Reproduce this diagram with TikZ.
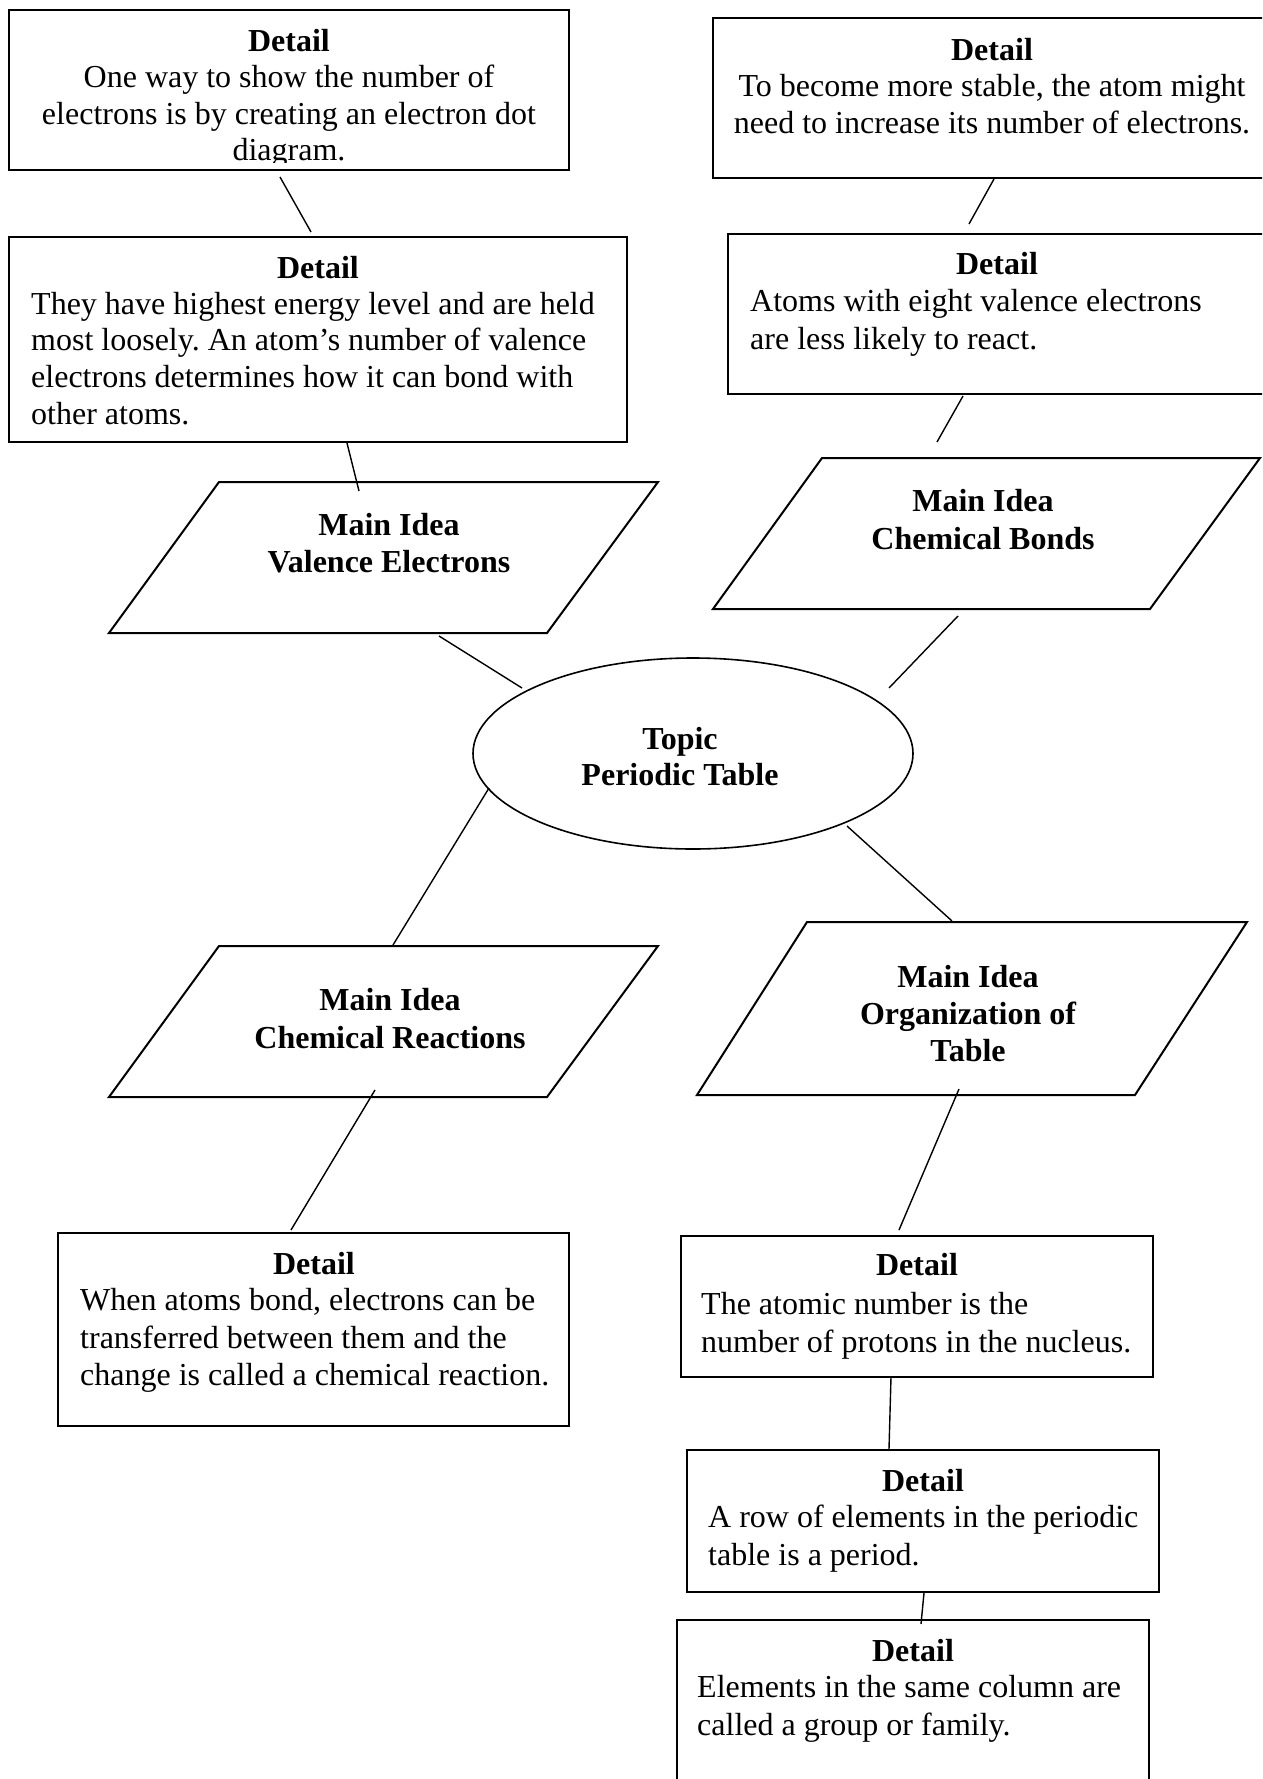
\documentclass[tikz,border=0pt]{standalone}
\usepackage{fontspec}
\setmainfont{Liberation Serif}
\usetikzlibrary{shapes.geometric}
\frenchspacing
\begin{document}
\begin{tikzpicture}[x=1pt,y=-1pt,
  box/.style={draw, line width=2pt, inner sep=0pt, outer sep=0pt},
  idea/.style={draw, line width=2pt, line join=miter},
  link/.style={line width=1.4pt},
  txt/.style={anchor=base, inner sep=0pt, font=\fontsize{32}{37}\selectfont},
  ttl/.style={txt, font=\fontsize{32}{37}\selectfont\bfseries},
  lft/.style={txt, anchor=base west}]
\useasboundingbox (0,0) rectangle (1262,1779);
\clip (0,0) rectangle (1262,1779);
\fill[white] (0,0) rectangle (1262,1779);

% ---- detail boxes ----
\node[box, minimum width=560, minimum height=160] (d1) at (289,90) {};
\node[box, minimum width=618, minimum height=205] (d2) at (318,339.5) {};
\node[box, minimum width=567, minimum height=160] (d3) at (996.5,98) {};
\node[box, minimum width=552, minimum height=160] (d4) at (1004,314) {};
\node[box, minimum width=511, minimum height=193] (d5) at (313.5,1329.5) {};
\node[box, minimum width=472, minimum height=141] (d6) at (917,1306.5) {};
\node[box, minimum width=472, minimum height=142] (d7) at (923,1521) {};
\node[box, minimum width=472, minimum height=180] (d8) at (913,1710) {};

% ---- main idea parallelograms ----
\draw[idea] (219,482) coordinate (m1a) -- (658,482) -- (547,633) -- (109,633) -- cycle;
\draw[idea] (822,458) coordinate (m2a) -- (1260,458) -- (1150,609) -- (713,609) -- cycle;
\draw[idea] (219,946) coordinate (m3a) -- (658,946) -- (547,1097) -- (109,1097) -- cycle;
\draw[idea] (807,922) coordinate (m4a) -- (1247,922) -- (1135,1095) -- (697,1095) -- cycle;

% ---- topic ----
\node[draw, ellipse, line width=1.6pt, minimum width=440, minimum height=191, inner sep=0pt] (topic) at (693,753.5) {};

% ---- connector end points ----
\coordinate (a1) at (280,177);  \coordinate (b1) at (311,232);
\coordinate (a2) at (347,443);  \coordinate (b2) at (359,491);
\coordinate (a3) at (439,636);  \coordinate (b3) at (522,688);
\coordinate (a4) at (994,179);  \coordinate (b4) at (969,224);
\coordinate (a5) at (963,396);  \coordinate (b5) at (937,442);
\coordinate (a6) at (958,616);  \coordinate (b6) at (889,688);
\coordinate (a7) at (489,788);  \coordinate (b7) at (393,945);
\coordinate (a8) at (375,1090); \coordinate (b8) at (291,1230);
\coordinate (a9) at (847,826);  \coordinate (b9) at (952,921);
\coordinate (a10) at (959,1089); \coordinate (b10) at (899,1230);
\coordinate (a11) at (891,1377); \coordinate (b11) at (889,1449);
\coordinate (a12) at (924,1593); \coordinate (b12) at (921,1624);

\foreach \i in {1,...,12} \draw[link] (a\i) -- (b\i);

% ---- texts ----
\node[ttl] (d1t) at (289,52) {Detail};
\node[txt] (d1l1) at (289,88) {One way to show the number of};
\node[txt] (d1l2) at (289,125) {electrons is by creating an electron dot};
\begin{scope}
  \clip (0,0) rectangle (1262,163);
  \node[txt] (d1l3) at (289,161) {diagram.};
\end{scope}

\node[ttl] (d2t) at (318,279) {Detail};
\node[lft] (d2l1) at (31,314) {They have highest energy level and are held};
\node[lft] (d2l2) at (31,350.5) {most loosely. An atom’s number of valence};
\node[lft] (d2l3) at (31,387) {electrons determines how it can bond with};
\node[lft] (d2l4) at (31,424) {other atoms.};

\node[ttl] (d3t) at (992,61) {Detail};
\node[txt] (d3l1) at (992,97) {To become more stable, the atom might};
\node[txt] (d3l2) at (992,134) {need to increase its number of electrons.};

\node[ttl] (d4t) at (997,275) {Detail};
\node[lft] (d4l1) at (750,311) {Atoms with eight valence electrons};
\node[lft] (d4l2) at (750,349) {are less likely to react.};

\node[ttl] (m1t) at (389,535) {Main Idea};
\node[ttl] (m1l) at (389,572) {Valence Electrons};

\node[ttl] (m2t) at (983,511) {Main Idea};
\node[ttl] (m2l) at (983,549) {Chemical Bonds};

\node[ttl] (tt) at (680,749) {Topic};
\node[ttl] (tl) at (680,785) {Periodic Table};

\node[ttl] (m3t) at (390,1010) {Main Idea};
\node[ttl] (m3l) at (390,1048) {Chemical Reactions};

\node[ttl] (m4t) at (968,987) {Main Idea};
\node[ttl] (m4l1) at (968,1024) {Organization of};
\node[ttl] (m4l2) at (968,1061) {Table};

\node[ttl] (d5t) at (314,1274) {Detail};
\node[lft] (d5l1) at (80,1310) {When atoms bond, electrons can be};
\node[lft] (d5l2) at (80,1348) {transferred between them and the};
\node[lft] (d5l3) at (80,1385) {change is called a chemical reaction.};

\node[ttl] (d6t) at (917,1275) {Detail};
\node[lft] (d6l1) at (701,1314) {The atomic number is the};
\node[lft] (d6l2) at (701,1352) {number of protons in the nucleus.};

\node[ttl] (d7t) at (923,1491) {Detail};
\node[lft] (d7l1) at (708,1527) {A row of elements in the periodic};
\node[lft] (d7l2) at (708,1565) {table is a period.};

\node[ttl] (d8t) at (913,1661) {Detail};
\node[lft] (d8l1) at (697,1697) {Elements in the same column are};
\node[lft] (d8l2) at (697,1735) {called a group or family.};
\end{tikzpicture}
\end{document}
